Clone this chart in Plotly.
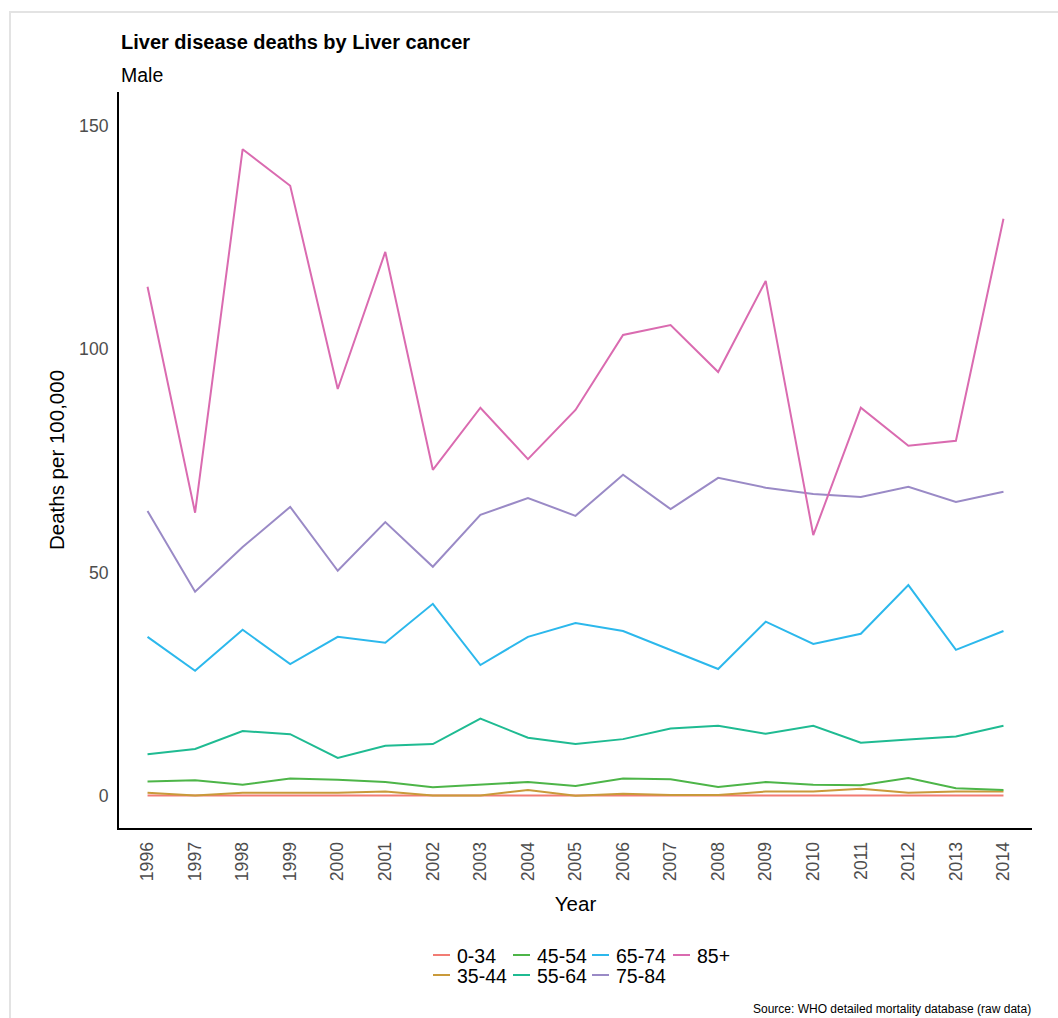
import plotly.graph_objects as go

years = list(range(1996, 2015))

age_0_34 = [0.1, 0.1, 0.1, 0.15, 0.1, 0.15, 0.1, 0.1, 0.1, 0.1, 0.15, 0.15, 0.15, 0.1, 0.1, 0.1, 0.1, 0.1, 0.1]
age_35_44 = [0.7, 0.1, 0.7, 0.7, 0.7, 1.0, 0.1, 0.1, 1.3, 0.0, 0.45, 0.2, 0.2, 0.96, 0.96, 1.57, 0.67, 0.96, 0.96]
age_45_54 = [3.2, 3.5, 2.5, 3.9, 3.6, 3.1, 1.9, 2.5, 3.1, 2.2, 3.9, 3.7, 2.0, 3.1, 2.5, 2.4, 4.0, 1.7, 1.3]
age_55_64 = [9.3, 10.5, 14.5, 13.8, 8.5, 11.2, 11.6, 17.3, 13.0, 11.6, 12.7, 15.1, 15.7, 13.9, 15.7, 11.9, 12.6, 13.3, 15.7]
age_65_74 = [35.6, 28.0, 37.2, 29.5, 35.6, 34.3, 43.0, 29.3, 35.6, 38.7, 36.9, 32.7, 28.4, 39.0, 34.0, 36.3, 47.2, 32.7, 36.9]
age_75_84 = [63.8, 45.7, 55.7, 64.7, 50.4, 61.3, 51.3, 62.9, 66.7, 62.7, 71.9, 64.2, 71.2, 69.0, 67.6, 66.9, 69.2, 65.8, 68.1]
age_85p = [114.0, 63.4, 144.8, 136.6, 91.1, 121.8, 73.0, 86.9, 75.4, 86.4, 103.2, 105.4, 94.9, 115.3, 58.4, 86.9, 78.4, 79.5, 129.2]

groups = ["0-34", "35-44", "45-54", "55-64", "65-74", "75-84", "85+"]
series = [age_0_34, age_35_44, age_45_54, age_55_64, age_65_74, age_75_84, age_85p]
colors = ["#F27C74", "#C99A3A", "#4DB548", "#1FBB92", "#2CB8EC", "#9A8AC6", "#DA6BB0"]

FONT = "Liberation Sans, Arial, sans-serif"
W, H = 1058, 1018
ml, mr, mt, mb = 119, 26, 92, 190
pw, ph = W - ml - mr, H - mt - mb

def px_x(p):
    return (p - ml) / pw

def px_y(p):
    return (H - mb - p) / ph

fig = go.Figure()
for i, g in enumerate(groups):
    fig.add_trace(go.Scatter(
        x=years, y=series[i], mode="lines", name=g,
        line=dict(color=colors[i], width=2), showlegend=False,
    ))

# manual legend (ggplot style: 2 rows, filled column by column)
col_x = [433, 513, 592, 673]
row_y = [955, 975]
shapes = [dict(type="rect", xref="paper", yref="paper",
               x0=px_x(10), x1=px_x(1070), y0=px_y(1030), y1=px_y(12),
               line=dict(color="#e3e3e3", width=2), layer="below")]
annotations = []
for i, g in enumerate(groups):
    c, r = i // 2, i % 2
    x0 = col_x[c]
    yy = row_y[r]
    shapes.append(dict(type="line", xref="paper", yref="paper",
                       x0=px_x(x0), x1=px_x(x0 + 17), y0=px_y(yy), y1=px_y(yy),
                       line=dict(color=colors[i], width=2)))
    annotations.append(dict(text=g, xref="paper", yref="paper",
                            x=px_x(x0 + 22), y=px_y(yy + 1), xanchor="left", yanchor="middle",
                            showarrow=False, font=dict(family=FONT, size=19.5, color="black")))

annotations += [
    dict(text="<b>Liver disease deaths by Liver cancer</b>", xref="paper", yref="paper",
         x=0, y=px_y(42), xanchor="left", yanchor="middle", showarrow=False,
         font=dict(family=FONT, size=20, color="black")),
    dict(text="Male", xref="paper", yref="paper",
         x=0, y=px_y(75), xanchor="left", yanchor="middle", showarrow=False,
         font=dict(family=FONT, size=19.5, color="black")),
    dict(text="Source: WHO detailed mortality database (raw data)", xref="paper", yref="paper",
         x=px_x(1033), y=px_y(1009), xanchor="right", yanchor="middle", showarrow=False,
         font=dict(family=FONT, size=12, color="black")),
]

fig.update_layout(
    width=W, height=H,
    margin=dict(l=ml, r=mr, t=mt, b=mb),
    paper_bgcolor="white", plot_bgcolor="white",
    font=dict(family=FONT),
    showlegend=False,
    xaxis=dict(
        range=[1995.4, 2014.6], tickmode="array", tickvals=years,
        ticktext=[str(y) for y in years], tickangle=-90,
        tickfont=dict(family=FONT, size=17.6, color="#4d4d4d"),
        showgrid=False, zeroline=False, showline=True, linecolor="black", linewidth=2,
        ticks="", ticklabelstandoff=5,
        title=dict(text="Year", font=dict(family=FONT, size=20.5, color="black"), standoff=16),
    ),
    yaxis=dict(
        range=[-7.2, 157.6], tickvals=[0, 50, 100, 150],
        tickfont=dict(family=FONT, size=17.6, color="#4d4d4d"),
        showgrid=False, zeroline=False, showline=True, linecolor="black", linewidth=2,
        ticks="", ticklabelstandoff=5,
        title=dict(text="Deaths per 100,000", font=dict(family=FONT, size=20.5, color="black"), standoff=9),
    ),
    shapes=shapes,
    annotations=annotations,
)

fig.write_html("out.html", config={"displayModeBar": False},
               post_script="document.body.style.margin='0';document.body.style.overflow='hidden';")
